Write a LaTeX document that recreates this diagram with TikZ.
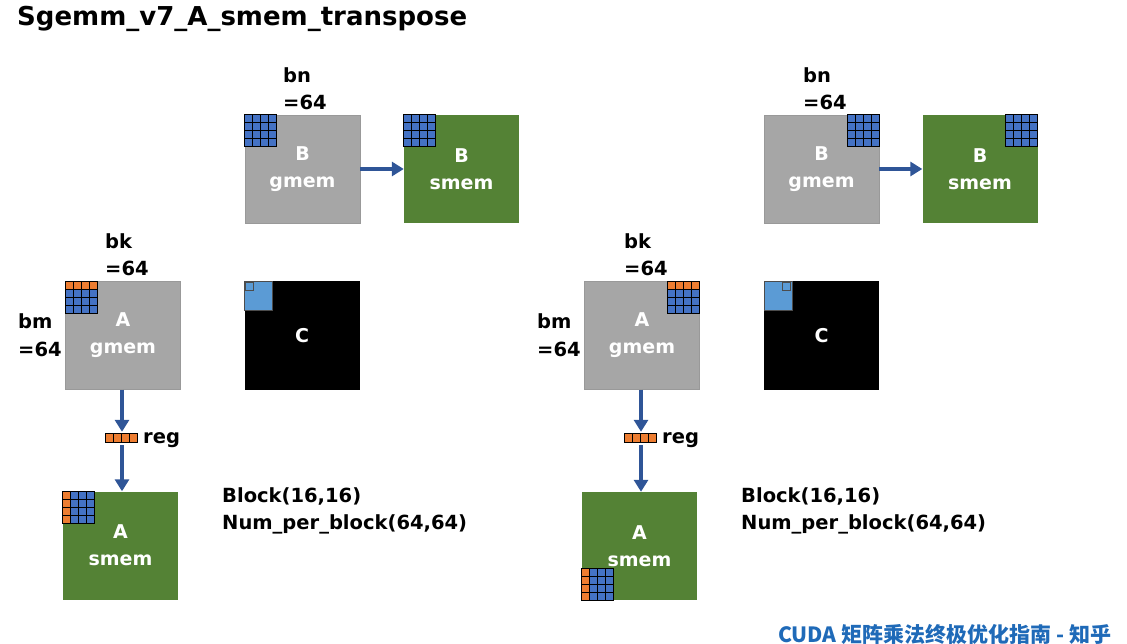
\documentclass[tikz,border=0pt]{standalone}
\usepackage{fontspec}
\setmainfont{DejaVu Sans}
\newfontfamily\cjk{Noto Sans CJK SC}
\usetikzlibrary{arrows.meta,calc}
\definecolor{boxgray}{HTML}{A6A6A6}
\definecolor{boxgreen}{HTML}{548235}
\definecolor{cellblue}{HTML}{4472C4}
\definecolor{cellorange}{HTML}{ED7D31}
\definecolor{tileblue}{HTML}{5B9BD5}
\definecolor{arrowblue}{HTML}{2F5597}
\definecolor{zhblue}{HTML}{1F6AB8}
\tikzstyle{mem}=[rectangle, inner sep=0pt, minimum width=115pt, minimum height=108pt, align=center, text=white, font=\fontsize{19}{27}\selectfont\bfseries]
\tikzstyle{gmem}=[mem, fill=boxgray, draw=gray!80]
\tikzstyle{smem}=[mem, fill=boxgreen]
\tikzstyle{cmem}=[mem, fill=black]
\tikzstyle{lbl}=[inner sep=0pt, anchor=west, align=left, font=\fontsize{19.5}{27.5}\selectfont\bfseries]
\tikzstyle{cell}=[draw=black, line width=1.3pt, fill=cellblue]
\tikzstyle{ocell}=[cell, fill=cellorange]
\tikzstyle{tile}=[draw=black!70, fill=tileblue]
\tikzstyle{move}=[-{Triangle[length=12pt,width=14pt]}, line width=3.5pt, draw=arrowblue]
\tikzstyle{regbox}=[rectangle, inner sep=0pt, minimum width=32pt, minimum height=9pt]

\begin{document}
\begin{tikzpicture}[x=1pt, y=-1pt]
	\useasboundingbox (0,0) rectangle (1127,644);
	
	%The title
	\draw (17,19) node[anchor=west, inner sep=0pt, font=\fontsize{26}{30}\selectfont\bfseries] (title) {Sgemm\_v7\_A\_smem\_transpose};
	
	%The left case: boxes
	\draw (302.5,169) node[gmem] (bg1) {B\\gmem};
	\draw (461.5,169) node[smem] (bs1) {B\\smem};
	\draw (123,335.5) node[gmem] (ag1) {A\\gmem};
	\draw (302,335.5) node[cmem] (c1) {};
	\draw (122,438.5) node[regbox] (reg1) {};
	\draw (120.5,545.5) node[smem] (as1) {A\\smem};
	
	%The left case: labels
	\draw (283,88.5) node[lbl] (bn1) {bn\\=64};
	\draw (105,254.5) node[lbl] (bk1) {bk\\=64};
	\draw (18,335) node[lbl] (bm1) {bm\\=64};
	\draw (143,440) node[lbl] (r1) {reg};
	\draw (222,511) node[lbl] (blk1) {Block(16,16)\\Num\_per\_block(64,64)};
	
	%The left case: tiles
	\foreach \i in {0,...,3}
		\foreach \j in {0,...,3} {
			\draw[cell] ($(bg1.north west)+(8*\i,8*\j)$) rectangle +(8,8);
			\draw[cell] ($(bs1.north west)+(8*\i,8*\j)$) rectangle +(8,8);
		}
	\foreach \i in {0,...,3} {
		\draw[ocell] ($(ag1.north west)+(8*\i,0)$) rectangle +(8,8);
		\draw[ocell] ($(reg1.north west)+(8*\i,0)$) rectangle +(8,9);
		\draw[ocell] ($(as1.north west)+(0,8*\i)$) rectangle +(8,8);
		\foreach \j in {1,...,3} {
			\draw[cell] ($(ag1.north west)+(8*\i,8*\j)$) rectangle +(8,8);
			\draw[cell] ($(as1.north west)+(8*\j,8*\i)$) rectangle +(8,8);
		}
	}
	\draw[tile] (c1.north west) rectangle +(28,29);
	\draw[tile, line width=1.3pt] ($(c1.north west)+(1,1)$) rectangle +(8,8);
	\draw (c1.center) node[mem, minimum size=0pt] {C};
	
	%The left case: arrows
	\draw[move] (bg1) -- (bs1);
	\draw[move] (ag1.south -| reg1) -- ($(reg1.north)+(0,-2)$);
	\draw[move] ($(reg1.south)+(0,2)$) -- (reg1 |- as1.north);
	
	%The right case: boxes
	\draw (821.5,169) node[gmem] (bg2) {B\\gmem};
	\draw (980,169) node[smem] (bs2) {B\\smem};
	\draw (642,335.5) node[gmem] (ag2) {A\\gmem};
	\draw (821.5,335.5) node[cmem] (c2) {};
	\draw (641,438.5) node[regbox] (reg2) {};
	\draw (639.5,546) node[smem] (as2) {A\\smem};
	
	%The right case: labels
	\draw (803,88.5) node[lbl] (bn2) {bn\\=64};
	\draw (624,254.5) node[lbl] (bk2) {bk\\=64};
	\draw (537,335) node[lbl] (bm2) {bm\\=64};
	\draw (662,440) node[lbl] (r2) {reg};
	\draw (741,511) node[lbl] (blk2) {Block(16,16)\\Num\_per\_block(64,64)};
	
	%The right case: tiles
	\foreach \i in {0,...,3}
		\foreach \j in {0,...,3} {
			\draw[cell] ($(bg2.north east)+(8*\i-32,8*\j)$) rectangle +(8,8);
			\draw[cell] ($(bs2.north east)+(8*\i-32,8*\j)$) rectangle +(8,8);
		}
	\foreach \i in {0,...,3} {
		\draw[ocell] ($(ag2.north east)+(8*\i-32,0)$) rectangle +(8,8);
		\draw[ocell] ($(reg2.north west)+(8*\i,0)$) rectangle +(8,9);
		\draw[ocell] ($(as2.south west)+(0,8*\i-32)$) rectangle +(8,8);
		\foreach \j in {1,...,3} {
			\draw[cell] ($(ag2.north east)+(8*\i-32,8*\j)$) rectangle +(8,8);
			\draw[cell] ($(as2.south west)+(8*\j,8*\i-32)$) rectangle +(8,8);
		}
	}
	\draw[tile] (c2.north west) rectangle +(28,29);
	\draw[tile, line width=1.3pt] ($(c2.north west)+(19,1)$) rectangle +(8,8);
	\draw (c2.center) node[mem, minimum size=0pt] {C};
	
	%The right case: arrows
	\draw[move] (bg2) -- (bs2);
	\draw[move] (ag2.south -| reg2) -- ($(reg2.north)+(0,-2)$);
	\draw[move] ($(reg2.south)+(0,2)$) -- (reg2 |- as2.north);
	
	%The source line
	\draw (778,635) node[anchor=west, inner sep=0pt, text=zhblue, font=\cjk\fontsize{21}{23}\selectfont\bfseries] (src) {CUDA 矩阵乘法终极优化指南 - 知乎};
\end{tikzpicture}
\end{document}
